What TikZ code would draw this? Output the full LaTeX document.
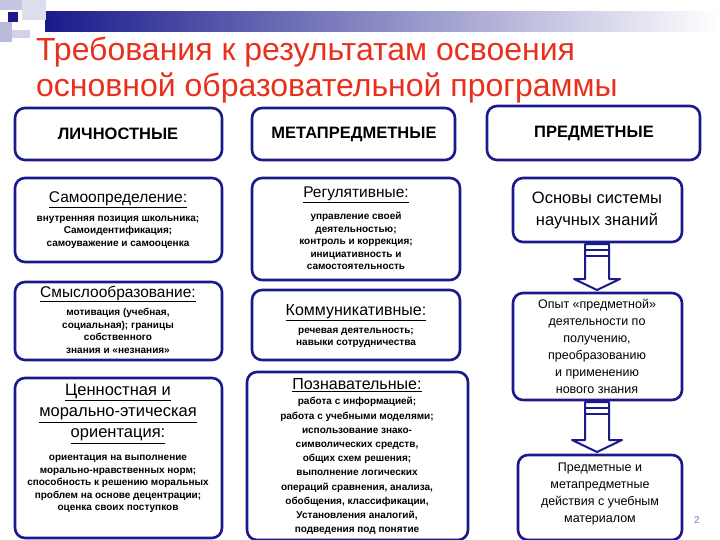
\documentclass[tikz,border=0pt]{standalone}
\usepackage{fontspec}
\setmainfont{Liberation Sans}
\definecolor{nv}{HTML}{1A1A8C}
\definecolor{tr}{HTML}{E8301C}
\begin{document}
\begin{tikzpicture}[x=1pt,y=-1pt,
  bx/.style={draw=nv,line width=2.6pt,rounded corners=10pt,fill=white},
  sm/.style={font=\fontsize{10}{12.5}\selectfont\bfseries,align=center},
  hd/.style={font=\fontsize{15.5}{18}\selectfont,align=center},
  hh/.style={font=\fontsize{16.5}{18}\selectfont\bfseries},
  bar/.style={draw=nv,line width=2pt,fill=white,line join=round}]
\useasboundingbox (0,0) rectangle (720,540);
% decoration
\fill[left color=nv,right color=white] (45,12) rectangle (720,32);
\fill[nv!25] (0,0) rectangle (22,10);
\fill[nv!15] (22,0) rectangle (46,20);
\fill[nv!30] (0,22) rectangle (12,42);
\fill[nv!20] (12,30) rectangle (30,38);
\fill[nv] (8,12) rectangle (18,22);
% title
\node[anchor=west,font=\fontsize{32}{34}\selectfont,text=tr,inner sep=0] (t1) at (36,52) {Требования к результатам освоения};
\node[anchor=west,font=\fontsize{32}{34}\selectfont,text=tr,inner sep=0] (t2) at (36,88) {основной образовательной программы};
% headers
\draw[bx] (15,108) rectangle (222,160); \node[hh] (h1) at (118,134) {ЛИЧНОСТНЫЕ};
\draw[bx] (252,108) rectangle (455,160); \node[hh] (h2) at (354,134) {МЕТАПРЕДМЕТНЫЕ};
\draw[bx] (487,106) rectangle (700,160); \node[hh] (h3) at (594,133) {ПРЕДМЕТНЫЕ};
% left column
\draw[bx] (15,178) rectangle (222,262);
\node[hd] (l1) at (118,200) {\underline{Самоопределение:}};
\node[sm] (l1b) at (118,232) {внутренняя позиция школьника;\\Самоидентификация;\\самоуважение и самооценка};
\draw[bx] (15,282) rectangle (222,360);
\node[hd] (l2) at (118,294) {\underline{Смыслообразование:}};
\node[sm] (l2b) at (118,331) {мотивация (учебная,\\социальная); границы\\собственного\\знания и «незнания»};
\draw[bx] (15,378) rectangle (222,538);
\node[hd,font=\fontsize{16.5}{21}\selectfont] (l3) at (118,414) {\underline{Ценностная и}\\\underline{морально-этическая}\\\underline{ориентация:}};
\node[sm] (l3b) at (118,484) {ориентация на выполнение\\морально-нравственных норм;\\способность к решению моральных\\проблем на основе децентрации;\\оценка своих поступков};
% middle column
\draw[bx] (252,178) rectangle (460,280);
\node[hd] (m1) at (356,195) {\underline{Регулятивные:}};
\node[sm] (m1b) at (356,241) {управление своей\\деятельностью;\\контроль и коррекция;\\инициативность и\\самостоятельность};
\draw[bx] (252,290) rectangle (460,360);
\node[hd,font=\fontsize{16}{18}\selectfont] (m2) at (356,313) {\underline{Коммуникативные:}};
\node[sm] (m2b) at (356,338) {речевая деятельность;\\навыки сотрудничества};
\draw[bx] (247,372) rectangle (468,540);
\node[hd,font=\fontsize{16}{18}\selectfont] (m3) at (357,385) {\underline{Познавательные:}};
\node[sm,font=\fontsize{10}{14.2}\selectfont\bfseries] (m3b) at (357,466) {работа с информацией;\\работа с учебными моделями;\\использование знако-\\символических средств,\\общих схем решения;\\выполнение логических\\операций сравнения, анализа,\\обобщения, классификации,\\Установления аналогий,\\подведения под понятие};
% right column
\draw[bx] (513,178) rectangle (682,242);
\node[align=center,font=\fontsize{16.5}{22}\selectfont] (r1) at (597,210) {Основы системы\\научных знаний};
\draw[bx] (513,293) rectangle (682,400);
\node[align=center,font=\fontsize{12.5}{17}\selectfont] (r2) at (597,346) {Опыт «предметной»\\деятельности по\\получению,\\преобразованию\\и применению\\нового знания};
\draw[bx] (518,455) rectangle (682,540);
\node[align=center,font=\fontsize{12.5}{17}\selectfont] (r3) at (600,494) {Предметные и\\метапредметные\\действия с учебным\\материалом};
% block arrows
\draw[bar] (585,244) -- (609,244) -- (609,279) -- (620,279) -- (597,290) -- (574,279) -- (585,279) -- cycle;
\draw[nv,line width=1.5pt] (585,250) -- (609,250) (585,256) -- (609,256);
\draw[bar] (585,402) -- (609,402) -- (609,440) -- (622,440) -- (597,452) -- (572,440) -- (585,440) -- cycle;
\draw[nv,line width=1.5pt] (585,408) -- (609,408) (585,414) -- (609,414);
\node[text=nv!40,font=\fontsize{10}{12}\selectfont\bfseries] (pg) at (697,520) {2};
\end{tikzpicture}
\end{document}
